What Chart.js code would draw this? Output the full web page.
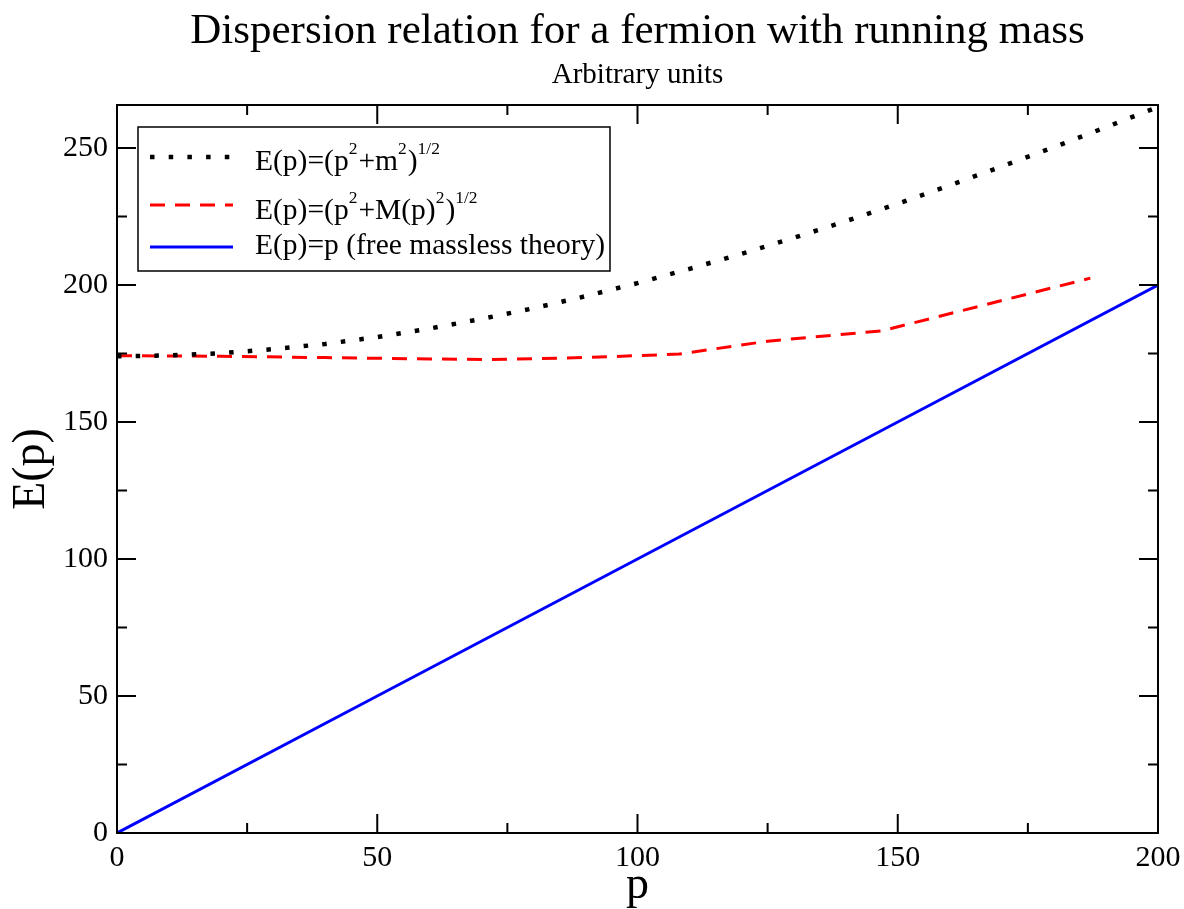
<!DOCTYPE html>
<html><head><meta charset="utf-8">
<script src="https://cdn.jsdelivr.net/npm/chart.js@4.4.1/dist/chart.umd.min.js"></script>
<style>html,body{margin:0;padding:0;background:#fff;} canvas{display:block;}</style>
</head><body>
<canvas id="c" width="1184" height="909"></canvas>
<script>
// ---- data ----
const pMass = [0,10,20,30,40,50,60,70,80,90,100,110,120,130,140,150,160,170,180,190,200];
const eMass = [174.0,174.3,175.1,176.6,178.5,181.0,184.1,187.6,191.5,195.9,200.7,205.9,211.4,217.2,223.3,229.7,236.4,243.3,250.3,257.6,265.0];
const pRunning = [0,20,40,60,72,85,97,108,125,147,187];
const eRunning = [174.2,174.0,173.5,173.0,172.8,173.3,174.0,174.8,179.5,183.3,202.5];
const pFree = [0,50,100,150,200];
const eFree = [0,50,100,150,200];
const xTickValues = [0,50,100,150,200];
const yTickValues = [0,50,100,150,200,250];
const xMinorTicks = [25,75,125,175];
const yMinorTicks = [25,75,125,175,225];
const seriesLabels = ['E(p)=(p²+m²)^1/2','E(p)=(p²+M(p)²)^1/2','E(p)=p (free massless theory)'];
const legendParts = [
  [['E(p)=(p',0],['2',1],['+m',0],['2',1],[')',0],['1/2',1]],
  [['E(p)=(p',0],['2',1],['+M(p)',0],['2',1],[')',0],['1/2',1]],
  [['E(p)=p (free massless theory)',0]]
];
const SERIF = '"Liberation Serif", "Times New Roman", serif';

const toXY = (xs, ys) => xs.map((v, i) => ({x: v, y: ys[i]}));

const framePlugin = {
  id: 'frame',
  afterDatasetsDraw(chart) {
    const {ctx, chartArea: a, scales: {x, y}} = chart;
    ctx.save();
    ctx.strokeStyle = '#000';
    ctx.lineWidth = 2;
    ctx.strokeRect(a.left, a.top, a.right - a.left, a.bottom - a.top);
    ctx.beginPath();
    const xt = (v, len) => { const px = x.getPixelForValue(v);
      ctx.moveTo(px, a.bottom); ctx.lineTo(px, a.bottom - len);
      ctx.moveTo(px, a.top); ctx.lineTo(px, a.top + len); };
    const yt = (v, len) => { const py = y.getPixelForValue(v);
      ctx.moveTo(a.left, py); ctx.lineTo(a.left + len, py);
      ctx.moveTo(a.right, py); ctx.lineTo(a.right - len, py); };
    xTickValues.forEach(v => xt(v, 19));
    xMinorTicks.forEach(v => xt(v, 10));
    yTickValues.forEach(v => yt(v, 19));
    yMinorTicks.forEach(v => yt(v, 10));
    ctx.stroke();
    ctx.restore();
  }
};

const legendPlugin = {
  id: 'boxLegend',
  afterDraw(chart) {
    const {ctx, chartArea: a} = chart;
    const bx = a.left + 21, by = a.top + 22, bw = 472, bh = 144;
    ctx.save();
    ctx.fillStyle = '#fff';
    ctx.fillRect(bx, by, bw, bh);
    ctx.strokeStyle = '#000';
    ctx.lineWidth = 1.5;
    ctx.strokeRect(bx, by, bw, bh);
    const lineY = [30, 78, 120];
    const baseY = [43, 92, 127];
    chart.data.datasets.forEach((ds, i) => {
      ctx.save();
      ctx.strokeStyle = ds.borderColor;
      ctx.lineWidth = ds.borderWidth;
      ctx.setLineDash(ds.borderDash || []);
      ctx.lineCap = 'butt';
      ctx.beginPath();
      ctx.moveTo(bx + 12, by + lineY[i]);
      ctx.lineTo(bx + 95, by + lineY[i]);
      ctx.stroke();
      ctx.restore();
      let tx = bx + 117;
      ctx.fillStyle = '#000';
      ctx.textBaseline = 'alphabetic';
      ctx.textAlign = 'left';
      legendParts[i].forEach(([t, sup]) => {
        ctx.font = (sup ? '17.5px ' : '29.5px ') + SERIF;
        ctx.fillText(t, tx, by + baseY[i] - (sup ? 16.5 : 0));
        tx += ctx.measureText(t).width + (sup ? 1 : 0);
      });
    });
    ctx.restore();
  }
};

new Chart(document.getElementById('c'), {
  type: 'line',
  data: {
    datasets: [
      {label: seriesLabels[0], data: toXY(pMass, eMass), borderColor: '#000000', borderWidth: 4.5, borderDash: [4.5, 14.2], pointRadius: 0, fill: false, tension: 0},
      {label: seriesLabels[1], data: toXY(pRunning, eRunning), borderColor: '#ff0000', borderWidth: 3, borderDash: [15, 10], pointRadius: 0, fill: false, tension: 0},
      {label: seriesLabels[2], data: toXY(pFree, eFree), borderColor: '#0000ff', borderWidth: 3, pointRadius: 0, fill: false, tension: 0}
    ]
  },
  options: {
    responsive: false,
    devicePixelRatio: 1,
    animation: false,
    layout: {padding: {left: 0, right: 26, top: 0, bottom: 0}},
    plugins: {
      legend: {display: false},
      tooltip: {enabled: false},
      title: {display: true, text: 'Dispersion relation for a fermion with running mass', color: '#000',
        font: {family: SERIF, size: 43, weight: 'normal'}, padding: {top: 6, bottom: 0}, fullSize: false},
      subtitle: {display: true, text: 'Arbitrary units', color: '#000',
        font: {family: SERIF, size: 29, weight: 'normal'}, padding: {top: 0, bottom: 12.6}, fullSize: false}
    },
    scales: {
      x: {
        type: 'linear', min: 0, max: 200,
        grid: {display: false, drawTicks: false, tickLength: 0},
        border: {display: false},
        ticks: {color: '#000', font: {family: SERIF, size: 30}, padding: 7, maxRotation: 0},
        title: {display: true, text: 'p', color: '#000', font: {family: SERIF, size: 46}, padding: {top: 0, bottom: -5}},
        afterBuildTicks: s => { s.ticks = xTickValues.map(v => ({value: v})); },
        afterFit: s => { s.height = 76; s.paddingLeft = 0; s.paddingRight = 0; }
      },
      y: {
        type: 'linear', min: 0, max: 265.7,
        grid: {display: false, drawTicks: false, tickLength: 0},
        border: {display: false},
        ticks: {color: '#000', font: {family: SERIF, size: 30}, padding: 9},
        title: {display: true, text: 'E(p)', color: '#000', font: {family: SERIF, size: 46}, padding: {top: 4, bottom: 0}},
        afterBuildTicks: s => { s.ticks = yTickValues.map(v => ({value: v})); },
        afterFit: s => { s.width = 117; s.paddingTop = 0; s.paddingBottom = 0; }
      }
    }
  },
  plugins: [framePlugin, legendPlugin]
});
</script>
</body></html>
